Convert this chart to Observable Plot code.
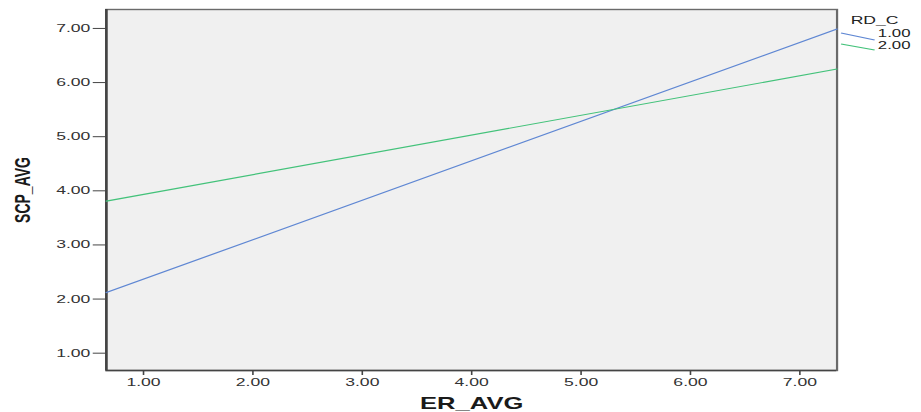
<!DOCTYPE html>
<html><head><meta charset="utf-8">
<script src="https://cdn.jsdelivr.net/npm/d3@7"></script>
<script src="https://cdn.jsdelivr.net/npm/@observablehq/plot@0.6"></script>
<style>
html,body{margin:0;padding:0;background:#fff}
#chart{position:relative;width:921px;height:412px;overflow:hidden}
#chart svg{position:absolute;left:0;top:0}
</style>
</head><body><div id="chart"></div>
<script>
// Data (fitted lines of SCP_AVG on ER_AVG per RD_C group)
const erAvg = [0.66, 7.34];
const scpRd1 = [2.12, 6.99];
const scpRd2 = [3.81, 6.25];
const groups = ["1.00", "2.00"];
const colors = ["#5f87d3", "#43c27a"];
const xTicks = [1, 2, 3, 4, 5, 6, 7];
const yTicks = [1, 2, 3, 4, 5, 6, 7];
const xDomain = [0.66, 7.34];
const yDomain = [0.68, 7.35];

const rows = [];
erAvg.forEach((x, i) => {
  rows.push({er: x, scp: scpRd1[i], rd: groups[0]});
  rows.push({er: x, scp: scpRd2[i], rd: groups[1]});
});

const S = 1.6, W = 576, H = 412, FW = 921;
const fmt = d => d.toFixed(2);

const plot = Plot.plot({
  width: W, height: H,
  marginLeft: 66, marginRight: 53, marginTop: 9, marginBottom: 42,
  style: {fontFamily: "'Liberation Sans', Arial, sans-serif", fontSize: "11px", color: "#333", background: "transparent"},
  x: {domain: xDomain},
  y: {domain: yDomain},
  color: {domain: groups, range: colors},
  marks: [
    Plot.frame({fill: "#f0f0f0", stroke: "#6a6a6a", strokeWidth: 1.4}),
    Plot.ruleX([xDomain[0]], {stroke: "#444", strokeWidth: 1.6}),
    Plot.ruleY([yDomain[0]], {stroke: "#444", strokeWidth: 1.6}),
    Plot.axisX({ticks: xTicks, tickFormat: fmt, tickSize: 5, tickPadding: 3, stroke: "#444", fill: "#333", label: null}),
    Plot.axisY({ticks: yTicks, tickFormat: fmt, tickSize: 8, tickPadding: 2, stroke: "#444", fill: "#333", label: null}),
    Plot.line(rows, {x: "er", y: "scp", z: "rd", stroke: "rd", strokeWidth: 1.15}),
    Plot.text(["ER_AVG"], {frameAnchor: "bottom", dy: 33, lineAnchor: "middle", textAnchor: "middle", fontWeight: "bold", fontSize: 16, fill: "#1a1a1a"}),
    Plot.text(["SCP_AVG"], {frameAnchor: "left", dx: -52, rotate: -90, lineAnchor: "middle", textAnchor: "middle", fontWeight: "bold", fontSize: 14, fill: "#1a1a1a", fontFamily: "'Liberation Sans Narrow', 'Liberation Sans', Arial, sans-serif"})
  ]
});

function stretch(svg) {
  svg.setAttribute("width", FW);
  svg.setAttribute("height", H);
  svg.setAttribute("viewBox", `0 0 ${W} ${H}`);
  svg.setAttribute("preserveAspectRatio", "none");
  svg.style.setProperty("width", FW + "px", "important");
  svg.style.setProperty("height", H + "px", "important");
  svg.style.setProperty("max-width", "none", "important");
  svg.style.setProperty("background", "transparent", "important");
}
stretch(plot);
const chart = document.getElementById("chart");
chart.appendChild(plot);

// Legend (RD_C)
const leg = d3.create("svg");
const lg = leg.node();
stretch(lg);
const legY = [[33, 40], [44, 50]];
const labBase = [37, 49];
leg.append("text").attr("x", 532).attr("y", 24)
  .attr("font-family", "'Liberation Sans', Arial, sans-serif").attr("font-size", 11).attr("fill", "#222")
  .text("RD_C");
groups.forEach((g, i) => {
  leg.append("line").attr("x1", 526).attr("x2", 547).attr("y1", legY[i][0]).attr("y2", legY[i][1])
    .attr("stroke", colors[i]).attr("stroke-width", 1.1);
  leg.append("text").attr("x", 549).attr("y", labBase[i])
    .attr("font-family", "'Liberation Sans', Arial, sans-serif").attr("font-size", 10.5).attr("fill", "#222")
    .text(g);
});
chart.appendChild(lg);
</script>
</body></html>
